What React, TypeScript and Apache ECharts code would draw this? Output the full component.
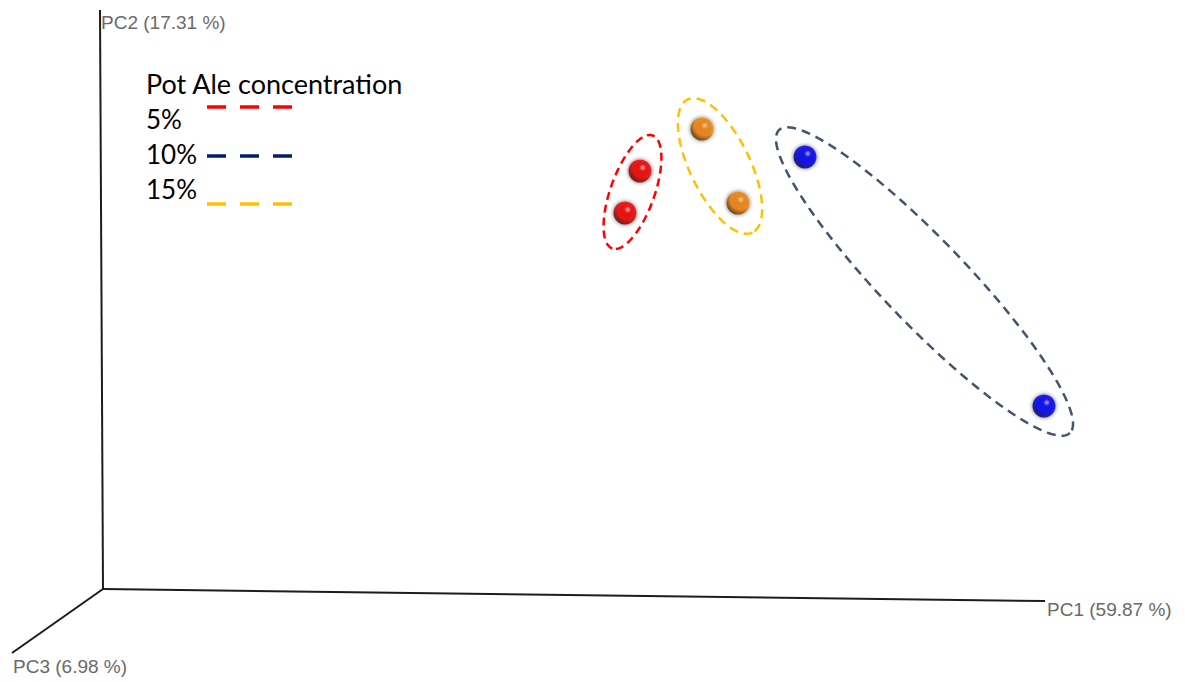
import React, { useEffect, useRef } from "react";
import * as echarts from "echarts";

// Projected PCoA scene coordinates (origin of the three axes at 0,0)
const concentrations = ["5%", "10%", "15%"];
const sampleX5 = [537, 522];
const sampleY5 = [418, 376];
const sampleX10 = [702, 941];
const sampleY10 = [432, 183];
const sampleX15 = [599, 635];
const sampleY15 = [460, 386];

const axisNames = ["PC1 (59.87 %)", "PC2 (17.31 %)", "PC3 (6.98 %)"];
const axisEndX = [942, -3, -91];
const axisEndY = [-12, 579, -64];

const legendTitle = "Pot Ale concentration";

// styling
const sphereBase = ["#f00000", "#0000f0", "#ee8410"];
const sphereLight = ["#ffb0b0", "#b0b0ff", "#ffd39a"];
const sphereDark = ["#700000", "#000070", "#703800"];
const hullColors = ["#ff0000", "#44546a", "#ffc000"];
const legendColors = ["#ff0000", "#002060", "#ffc000"];
const hullRadii = [
  [60, 22],
  [210, 42],
  [74, 30],
];
const hullDash = [
  [8, 5],
  [9, 6],
  [9, 6],
];

const sampleX = [sampleX5, sampleX10, sampleX15];
const sampleY = [sampleY5, sampleY10, sampleY15];

function sphereColor(i: number) {
  return new echarts.graphic.RadialGradient(0.62, 0.35, 0.72, [
    { offset: 0, color: sphereLight[i] },
    { offset: 0.22, color: sphereBase[i] },
    { offset: 0.62, color: sphereBase[i] },
    { offset: 0.9, color: sphereDark[i] },
    { offset: 1, color: "#000000" },
  ]);
}

export default function App() {
  const ref = useRef<HTMLDivElement>(null);

  useEffect(() => {
    document.body.style.margin = "0";
    if (!ref.current) return;
    const chart = echarts.init(ref.current, undefined, { renderer: "svg" });

    const hullSeries = concentrations.map((name, gi) => ({
      type: "custom",
      name: name + " hull",
      silent: true,
      z: 1,
      data: [[sampleX[gi][0], sampleY[gi][0], sampleX[gi][1], sampleY[gi][1]]],
      renderItem: (_params: any, api: any) => {
        const p1 = api.coord([api.value(0), api.value(1)]);
        const p2 = api.coord([api.value(2), api.value(3)]);
        const cx = (p1[0] + p2[0]) / 2;
        const cy = (p1[1] + p2[1]) / 2;
        const ang = Math.atan2(p2[1] - p1[1], p2[0] - p1[0]);
        const [a, b] = hullRadii[gi];
        const pts: number[][] = [];
        const n = 160;
        for (let k = 0; k < n; k++) {
          const t = (k / n) * Math.PI * 2;
          const ex = a * Math.cos(t);
          const ey = b * Math.sin(t);
          pts.push([
            cx + ex * Math.cos(ang) - ey * Math.sin(ang),
            cy + ex * Math.sin(ang) + ey * Math.cos(ang),
          ]);
        }
        return {
          type: "polygon",
          shape: { points: pts },
          style: {
            fill: "none",
            stroke: hullColors[gi],
            lineWidth: 2.5,
            lineDash: hullDash[gi],
          },
        };
      },
    }));

    const sphereSeries = concentrations.map((name, gi) => ({
      type: "scatter",
      name,
      z: 3,
      symbol: "circle",
      symbolSize: 23,
      data: sampleX[gi].map((x, k) => [x, sampleY[gi][k]]),
      itemStyle: {
        color: sphereColor(gi),
        shadowBlur: 4,
        shadowColor: "rgba(0,0,0,0.75)",
      },
    }));

    const axisSeries = {
      type: "custom",
      name: "axes",
      silent: true,
      z: 2,
      data: axisEndX.map((x, i) => [x, axisEndY[i], i]),
      renderItem: (_params: any, api: any) => {
        const o = api.coord([0, 0]);
        const e = api.coord([api.value(0), api.value(1)]);
        const i = api.value(2);
        const labelPos = [
          [e[0] + 2, e[1] + 8],
          [e[0] + 1, e[1] + 12],
          [e[0] + 1, e[1] + 13],
        ][i];
        return {
          type: "group",
          children: [
            {
              type: "line",
              shape: { x1: o[0], y1: o[1], x2: e[0], y2: e[1] },
              style: { stroke: "#1c1c1c", lineWidth: 2 },
            },
            {
              type: "text",
              style: {
                text: axisNames[i],
                x: labelPos[0],
                y: labelPos[1],
                fill: "#6a6a6a",
                fontSize: 19,
                fontFamily: "Liberation Sans, Arial, sans-serif",
                textAlign: "left",
                textVerticalAlign: "middle",
              },
            },
          ],
        };
      },
    };

    const legendFont = "Lato, 'Noto Sans', sans-serif";
    const legendRows = [122, 157, 192];
    const dashRows = [107, 156, 204];
    const graphic: any[] = [
      {
        type: "text",
        left: 146,
        top: 70,
        style: {
          text: legendTitle,
          fill: "#000",
          fontSize: 27,
          fontFamily: legendFont,
        },
      },
    ];
    concentrations.forEach((c, i) => {
      graphic.push({
        type: "text",
        left: 146,
        top: legendRows[i] - 16,
        style: { text: c, fill: "#000", fontSize: 26, fontFamily: legendFont },
      });
      graphic.push({
        type: "line",
        shape: { x1: 207, y1: dashRows[i], x2: 292, y2: dashRows[i] },
        style: {
          stroke: legendColors[i],
          lineWidth: 3.5,
          lineDash: [19, 14],
        },
      });
    });

    chart.setOption({
      animation: false,
      backgroundColor: "#ffffff",
      grid: { left: 0, right: 0, top: 0, bottom: 0, outerBoundsMode: "none" },
      xAxis: { type: "value", min: -103, max: 1082, show: false },
      yAxis: { type: "value", min: -93, max: 589, show: false },
      tooltip: { show: false },
      graphic,
      series: [axisSeries, ...hullSeries, ...sphereSeries],
    });

    return () => chart.dispose();
  }, []);

  return <div ref={ref} style={{ width: 1185, height: 682 }} />;
}
